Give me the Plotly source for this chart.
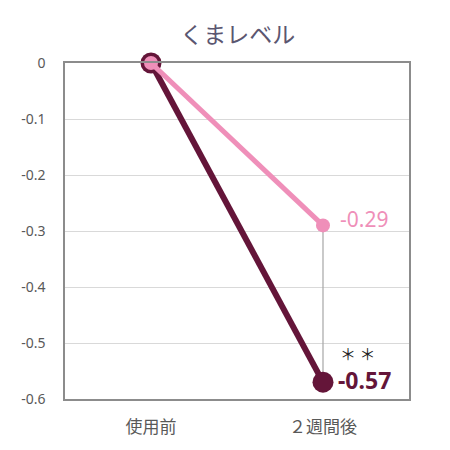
import plotly.graph_objects as go

categories = ["使用前", "２週間後"]
series_a_name = "A"
series_a = [0, -0.29]
series_b_name = "B"
series_b = [0, -0.57]
y_tickvals = [0, -0.1, -0.2, -0.3, -0.4, -0.5, -0.6]
y_ticktext = ["0", "-0.1", "-0.2", "-0.3", "-0.4", "-0.5", "-0.6"]
label_a = "-0.29"
label_b = "-0.57"
sig_label = "＊ ＊"
title = "くまレベル"

PINK = "#ef8fb9"
MAROON = "#641539"
FONT = "Noto Sans, Noto Sans CJK JP, sans-serif"

fig = go.Figure()
# vertical connector between end points
fig.add_trace(go.Scatter(
    x=[categories[1], categories[1]], y=[series_a[1], series_b[1]],
    mode="lines", line=dict(color="#a6a6a6", width=1.2),
    hoverinfo="skip", showlegend=False))
fig.add_trace(go.Scatter(
    x=categories, y=series_b, mode="lines+markers", name=series_b_name,
    line=dict(color=MAROON, width=6),
    marker=dict(color=MAROON, size=21), cliponaxis=False))
fig.add_trace(go.Scatter(
    x=categories, y=series_a, mode="lines+markers", name=series_a_name,
    line=dict(color=PINK, width=5),
    marker=dict(color=PINK, size=14), cliponaxis=False))

fig.add_annotation(x=categories[1], y=series_a[1], text=label_a, showarrow=False,
                   xanchor="left", xshift=15, yshift=6,
                   font=dict(color=PINK, size=21, family=FONT))
fig.add_annotation(x=categories[1], y=series_b[1], text="<b>" + label_b + "</b>", showarrow=False,
                   xanchor="left", xshift=13, yshift=2,
                   font=dict(color=MAROON, size=23, family=FONT))
fig.add_annotation(x=categories[1], y=series_b[1], text=sig_label, showarrow=False,
                   xanchor="left", xshift=15, yshift=29,
                   font=dict(color="#222222", size=16, family="Noto Sans CJK JP"))

fig.update_layout(
    width=442, height=442,
    margin=dict(l=57, r=41, t=55, b=48),
    paper_bgcolor="white", plot_bgcolor="white",
    showlegend=False,
    font=dict(family=FONT, color="#595959", size=14),
    title=dict(text=title, x=0.52, xanchor="center", y=0.939, yanchor="middle",
               font=dict(size=23, color="#5b5670", family=FONT)),
)
fig.update_xaxes(
    type="category", categoryorder="array", categoryarray=categories,
    range=[-0.5, 1.5],
    showline=True, linecolor="#8c8c8c", linewidth=1.5, mirror=True,
    showgrid=False, ticks="", ticklabelstandoff=12,
    tickfont=dict(size=17, color="#595959"))
fig.update_yaxes(
    range=[-0.6, 0], tickvals=y_tickvals, ticktext=y_ticktext,
    showline=True, linecolor="#8c8c8c", linewidth=1.5, mirror=True,
    showgrid=True, gridcolor="#d9d9d9", gridwidth=1, zeroline=False,
    ticks="", ticklabelstandoff=15,
    tickfont=dict(size=14, color="#595959"))

fig.write_html("out.html")
